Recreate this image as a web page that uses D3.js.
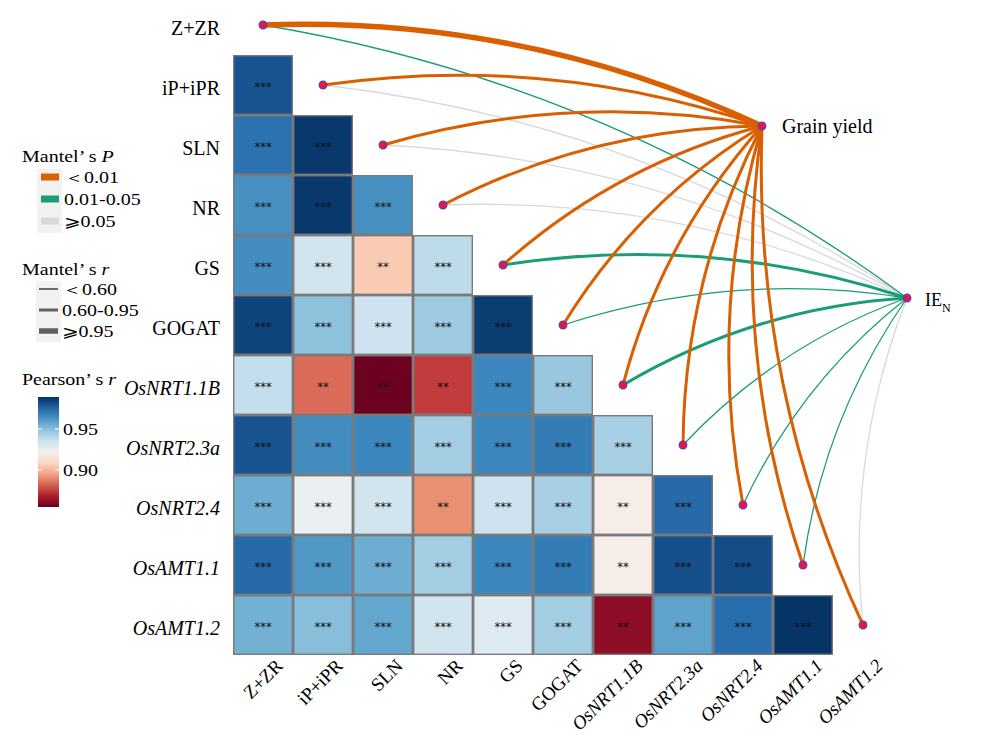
<!DOCTYPE html>
<html>
<head>
<meta charset="utf-8">
<script src="https://cdn.jsdelivr.net/npm/d3@7"></script>
<style>
  body { margin: 0; background: #fff; }
  svg { font-family: "Liberation Serif", "Times New Roman", serif; }
</style>
</head>
<body>
<svg id="chart" width="1000" height="738"></svg>
<script>

// variables, in matrix order (rows top to bottom, columns left to right)
var vars = ["Z+ZR", "iP+iPR", "SLN", "NR", "GS", "GOGAT",
            "OsNRT1.1B", "OsNRT2.3a", "OsNRT2.4", "OsAMT1.1", "OsAMT1.2"];
var italicVars = ["OsNRT1.1B", "OsNRT2.3a", "OsNRT2.4", "OsAMT1.1", "OsAMT1.2"];

// Pearson's r, lower triangle: row i holds the values against columns 0..i-1
var pearsonR = [
  [],
  [0.980],
  [0.972, 0.987],
  [0.963, 0.987, 0.963],
  [0.964, 0.934, 0.905, 0.939],
  [0.984, 0.949, 0.935, 0.946, 0.986],
  [0.938, 0.884, 0.856, 0.875, 0.966, 0.947],
  [0.980, 0.964, 0.966, 0.945, 0.966, 0.969, 0.944],
  [0.955, 0.926, 0.934, 0.891, 0.935, 0.944, 0.919, 0.974],
  [0.974, 0.961, 0.955, 0.945, 0.966, 0.969, 0.919, 0.981, 0.982],
  [0.954, 0.950, 0.957, 0.934, 0.930, 0.945, 0.862, 0.958, 0.973, 0.988]
];

var pearsonSig = [
  [],
  ["***"],
  ["***", "***"],
  ["***", "***", "***"],
  ["***", "***", "**", "***"],
  ["***", "***", "***", "***", "***"],
  ["***", "**", "**", "**", "***", "***"],
  ["***", "***", "***", "***", "***", "***", "***"],
  ["***", "***", "***", "**", "***", "***", "**", "***"],
  ["***", "***", "***", "***", "***", "***", "**", "***", "***"],
  ["***", "***", "***", "***", "***", "***", "**", "***", "***", "***"]
];

// Mantel test of each variable against the two targets
var targets = ["Grain yield", "IEN"];
var yieldR = [0.97, 0.82, 0.80, 0.78, 0.72, 0.79, 0.81, 0.77, 0.80, 0.83, 0.85];
var yieldP = [0.001, 0.001, 0.001, 0.001, 0.001, 0.001, 0.001, 0.001, 0.001, 0.001, 0.001];
var ienR   = [0.45, 0.32, 0.30, 0.28, 0.70, 0.50, 0.68, 0.48, 0.47, 0.46, 0.35];
var ienP   = [0.03, 0.12, 0.15, 0.18, 0.02, 0.04, 0.02, 0.03, 0.04, 0.03, 0.09];

// legend labels
var pLabels = ["\uFF1C0.01", "0.01-0.05", "\u2A7E0.05"];
var rLabels = ["\uFF1C0.60", "0.60-0.95", "\u2A7E0.95"];
var colorTicks = [0.90, 0.95];


var svg = d3.select("#chart");

var x = d3.scaleBand().domain(vars).range([233, 893]);
var y = d3.scaleBand().domain(vars).range([-5, 655]);

var color = d3.scaleSequential(d3.interpolateRdBu).domain([0.855, 0.989]);

var pColor = d3.scaleThreshold().domain([0.01, 0.05]).range(["#d95f02", "#1b9e77", "#d9d9d9"]);
var rWidth = d3.scaleThreshold().domain([0.60, 0.95]).range([1.3, 3, 5.5]);

// where the two target nodes sit
var targetPos = {
  "Grain yield": [762, 126],
  "IEN": [907, 298]
};


/* ======================================
 * Heatmap cells
 */
var cells = [];
pearsonR.forEach(function(row, i) {
  row.forEach(function(v, j) {
    cells.push({ row: vars[i], col: vars[j], r: v, sig: pearsonSig[i][j] });
  });
});

var cellG = svg.append("g");

cellG.selectAll("rect")
  .data(cells)
  .enter().append("rect")
  .attr("x", function(d) { return x(d.col) + 0.7; })
  .attr("y", function(d) { return y(d.row) + 0.7; })
  .attr("width", x.bandwidth() - 1.4)
  .attr("height", y.bandwidth() - 1.4)
  .attr("fill", function(d) { return color(d.r); })
  .attr("stroke", "#7a7a7a")
  .attr("stroke-width", 1.4);

cellG.selectAll("text")
  .data(cells)
  .enter().append("text")
  .attr("x", function(d) { return x(d.col) + x.bandwidth() / 2; })
  .attr("y", function(d) { return y(d.row) + y.bandwidth() / 2 + 6; })
  .attr("text-anchor", "middle")
  .attr("font-family", "DejaVu Sans, sans-serif")
  .attr("font-size", 11.5)
  .attr("fill", "#111")
  .text(function(d) { return d.sig; });


/* ======================================
 * Row labels (left) and column labels (bottom, rotated)
 */
svg.append("g").selectAll("text")
  .data(vars)
  .enter().append("text")
  .attr("x", 220)
  .attr("y", function(d) { return y(d) + y.bandwidth() / 2 + 9.5; })
  .attr("text-anchor", "end")
  .attr("font-size", 20)
  .attr("font-style", function(d) { return italicVars.indexOf(d) >= 0 ? "italic" : null; })
  .text(function(d) { return d; });

svg.append("g").selectAll("text")
  .data(vars)
  .enter().append("text")
  .attr("transform", function(d) {
    return "translate(" + (x(d) + x.bandwidth() / 2 + 21) + ",667) rotate(-45)";
  })
  .attr("text-anchor", "end")
  .attr("font-size", 19)
  .attr("font-style", function(d) { return italicVars.indexOf(d) >= 0 ? "italic" : null; })
  .text(function(d) { return d; });


/* ======================================
 * Mantel links, curved from each diagonal node to the targets
 */
var links = [];
vars.forEach(function(v, i) {
  links.push({ source: v, target: "Grain yield", r: yieldR[i], p: yieldP[i] });
  links.push({ source: v, target: "IEN", r: ienR[i], p: ienP[i] });
});
// grey under green under orange
links.sort(function(a, b) { return b.p - a.p; });

function nodePos(v) {
  return [x(v) + x.bandwidth() / 2, y(v) + y.bandwidth() / 2];
}

function curve(d) {
  var s = nodePos(d.source), t = targetPos[d.target];
  var dx = t[0] - s[0], dy = t[1] - s[1];
  var k = 0.12;
  var cx = (s[0] + t[0]) / 2 + k * dy,
      cy = (s[1] + t[1]) / 2 - k * dx;
  var p = d3.path();
  p.moveTo(s[0], s[1]);
  p.quadraticCurveTo(cx, cy, t[0], t[1]);
  return p.toString();
}

svg.append("g").selectAll("path")
  .data(links)
  .enter().append("path")
  .attr("d", curve)
  .attr("fill", "none")
  .attr("stroke", function(d) { return pColor(d.p); })
  .attr("stroke-width", function(d) { return rWidth(d.r); })
  .attr("stroke-linecap", "round");

// nodes
var nodes = vars.map(nodePos).concat(targets.map(function(t) { return targetPos[t]; }));

svg.append("g").selectAll("circle")
  .data(nodes)
  .enter().append("circle")
  .attr("cx", function(d) { return d[0]; })
  .attr("cy", function(d) { return d[1]; })
  .attr("r", 3.8)
  .attr("fill", "#e8173c")
  .attr("stroke", "#5a3cc0")
  .attr("stroke-width", 1.3);

svg.append("text")
  .attr("x", 782).attr("y", 133)
  .attr("font-size", 20)
  .text("Grain yield");

var ien = svg.append("text")
  .attr("x", 925).attr("y", 306)
  .attr("font-size", 18)
  .text("IE");
ien.append("tspan")
  .attr("font-size", 12)
  .attr("dy", 6)
  .text("N");


/* ======================================
 * Legends (text is drawn stretched sideways, as in the original)
 */
function legendText(g, tx, ty, parts) {
  var t = g.append("text")
    .attr("transform", "translate(" + tx + "," + ty + ") scale(1.25,1)")
    .attr("font-size", 16);
  parts.forEach(function(p) {
    t.append("tspan")
      .attr("font-style", p.italic ? "italic" : null)
      .text(p.text);
  });
  return t;
}

var leg = svg.append("g");

// Mantel's P
legendText(leg, 22, 162, [{ text: "Mantel\u2019 s " }, { text: "P", italic: true }]);
leg.append("rect").attr("x", 37).attr("y", 169).attr("width", 25).attr("height", 64).attr("fill", "#f2f2f2");
pLabels.forEach(function(lab, i) {
  var cy = 177 + i * 22;
  leg.append("rect")
    .attr("x", 41).attr("y", cy - 3.5).attr("width", 18).attr("height", 7)
    .attr("fill", pColor.range()[i]);
  legendText(leg, 64, cy + 6, [{ text: lab }]);
});

// Mantel's r
legendText(leg, 22, 275, [{ text: "Mantel\u2019 s " }, { text: "r", italic: true }]);
leg.append("rect").attr("x", 36).attr("y", 281).attr("width", 25).attr("height", 61).attr("fill", "#f2f2f2");
rLabels.forEach(function(lab, i) {
  var cy = 289 + i * 21;
  leg.append("line")
    .attr("x1", 39).attr("x2", 58)
    .attr("y1", cy).attr("y2", cy)
    .attr("stroke", "#5f5f5f")
    .attr("stroke-width", [1.8, 3, 5.5][i]);
  legendText(leg, 62, cy + 6, [{ text: lab }]);
});

// Pearson's r colour bar
legendText(leg, 22, 385, [{ text: "Pearson\u2019 s " }, { text: "r", italic: true }]);

var barTop = 397, barBottom = 507;
var barScale = d3.scaleLinear().domain(color.domain()).range([barBottom, barTop]);

var grad = svg.append("defs").append("linearGradient")
  .attr("id", "rdbu").attr("x1", 0).attr("y1", 1).attr("x2", 0).attr("y2", 0);
d3.range(0, 1.001, 0.1).forEach(function(t) {
  grad.append("stop")
    .attr("offset", t)
    .attr("stop-color", d3.interpolateRdBu(t));
});

leg.append("rect")
  .attr("x", 38).attr("y", barTop)
  .attr("width", 21).attr("height", barBottom - barTop)
  .attr("fill", "url(#rdbu)");

colorTicks.forEach(function(v) {
  var ty = barScale(v);
  leg.append("line").attr("x1", 38).attr("x2", 42).attr("y1", ty).attr("y2", ty)
    .attr("stroke", "#fff").attr("stroke-width", 1);
  leg.append("line").attr("x1", 55).attr("x2", 59).attr("y1", ty).attr("y2", ty)
    .attr("stroke", "#fff").attr("stroke-width", 1);
  legendText(leg, 63, ty + 6, [{ text: v.toFixed(2) }]);
});

</script>
</body>
</html>
